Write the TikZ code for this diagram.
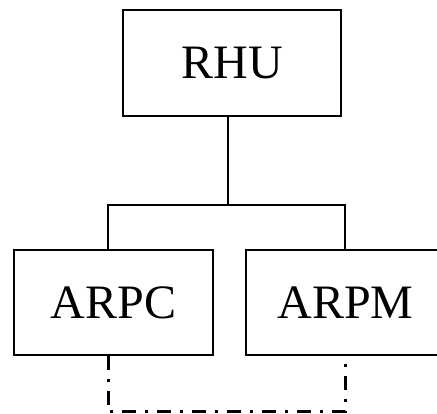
\documentclass[tikz,border=0pt]{standalone}
\usepackage{fontspec}
\setmainfont{Liberation Serif}
\begin{document}
\begin{tikzpicture}[x=1pt, y=1pt,
        unit/.style={draw, line width=2pt, inner sep=0pt, minimum height=105pt,
            font=\fontsize{48}{52}\selectfont},
        link/.style={line width=2pt},
        backup/.style={line width=3pt, dash pattern=on 14pt off 9pt on 3pt off 9pt}]
        \useasboundingbox (0,0) rectangle (437,414);

        % Units
        \node[unit, minimum width=218pt, minimum height=106pt] (rhu) at (232,351) {RHU};
        \node[unit, minimum width=199pt] (arpc) at (113.5,111.5) {ARPC};
        \node[unit, minimum width=199pt] (arpm) at (345.5,111.5) {ARPM};

        % Tree links
        \coordinate (fork) at (228,209);
        \coordinate (lefttop) at (108,209);
        \coordinate (righttop) at (345,209);
        \draw[link] (rhu.south -| fork) -- (fork);
        \draw[link] (arpc.north -| lefttop) -- (lefttop) -- (righttop) -- (arpm.north -| righttop);

        % Dash-dot link below
        \coordinate (leftlow) at (108,2);
        \coordinate (rightlow) at (345,2);
        \draw[backup] (arpc.south -| leftlow) -- (leftlow) -- (rightlow) -- (arpm.south -| rightlow);
\end{tikzpicture}
\end{document}
